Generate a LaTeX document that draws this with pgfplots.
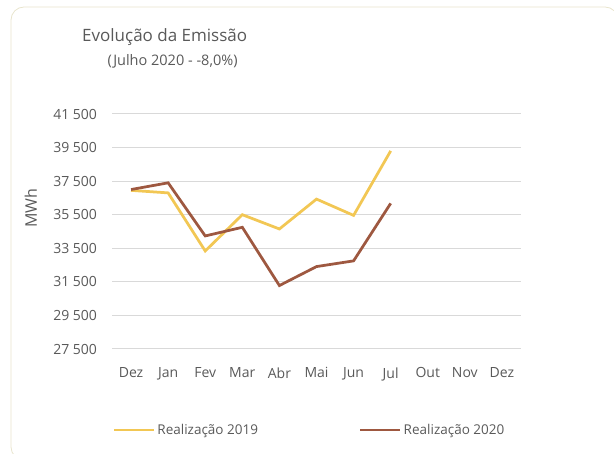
\documentclass[border=0pt]{standalone}
\usepackage{pgfplots}
\pgfplotsset{compat=1.18}
\usepackage{fontspec}
\setmainfont{Open Sans}
\definecolor{txt}{RGB}{89,89,89}
\definecolor{grd}{RGB}{217,217,217}
\definecolor{y19}{RGB}{242,199,84}
\definecolor{b20}{RGB}{158,88,64}
\definecolor{frm}{RGB}{232,228,205}
\begin{document}
\begin{tikzpicture}[x=1pt,y=1pt]
\useasboundingbox (0,0) rectangle (614,454);
\draw[frm, line width=0.8pt, rounded corners=13pt] (11,-6) rectangle (618,447);
\node[anchor=base west, text=txt, font=\fontsize{17}{19}\selectfont, inner sep=0] at (82,412.5) {Evolução da Emissão};
\node[anchor=base west, text=txt, font=\fontsize{14.5}{16}\selectfont, inner sep=0] at (107.5,388) {(Julho 2020 - -8,0\%)};
\begin{axis}[
  at={(112.5pt,105pt)}, anchor=south west,
  scale only axis, width=408pt, height=235pt,
  xmin=-0.5, xmax=10.5, ymin=27500, ymax=41500,
  xtick={0,...,10},
  xticklabels={Dez,Jan,Fev,Mar,Abr,Mai,Jun,Jul,Out,Nov,Dez},
  ytick={27500,29500,...,41500},
  scaled y ticks=false,
  /pgf/number format/.cd, 1000 sep={\ }, assume math mode=true,
  /pgfplots/.cd,
  major tick length=0pt,
  axis line style={draw=none},
  ymajorgrids, grid style={grd, line width=1pt},
  tick label style={text=txt, font=\fontsize{14}{16}\selectfont},
  yticklabel style={xshift=-12pt},
  xticklabel style={yshift=-15pt},
  ylabel={MWh},
  ylabel style={text=txt, font=\fontsize{16}{18}\selectfont, at={(axis description cs:-0.2,0.6)}, anchor=center},
  legend columns=2,
  legend style={at={(axis description cs:0.0,-0.345)}, anchor=west, draw=none, fill=none,
    font=\fontsize{13.5}{15}\selectfont, text=txt, inner xsep=0pt,
    /tikz/every even column/.append style={column sep=99pt}},
  legend image code/.code={\draw[#1, line width=2.75pt] (0pt,0pt) -- (40pt,0pt);},
  clip=false,
]
\addplot[y19, line width=2.75pt] coordinates {(0,36950) (1,36800) (2,33340) (3,35500) (4,34650) (5,36430) (6,35460) (7,39300)};
\addlegendentry{Realização 2019}
\addplot[b20, line width=2.75pt] coordinates {(0,37000) (1,37400) (2,34235) (3,34750) (4,31280) (5,32410) (6,32750) (7,36175)};
\addlegendentry{Realização 2020}
\end{axis}
\end{tikzpicture}
\end{document}
